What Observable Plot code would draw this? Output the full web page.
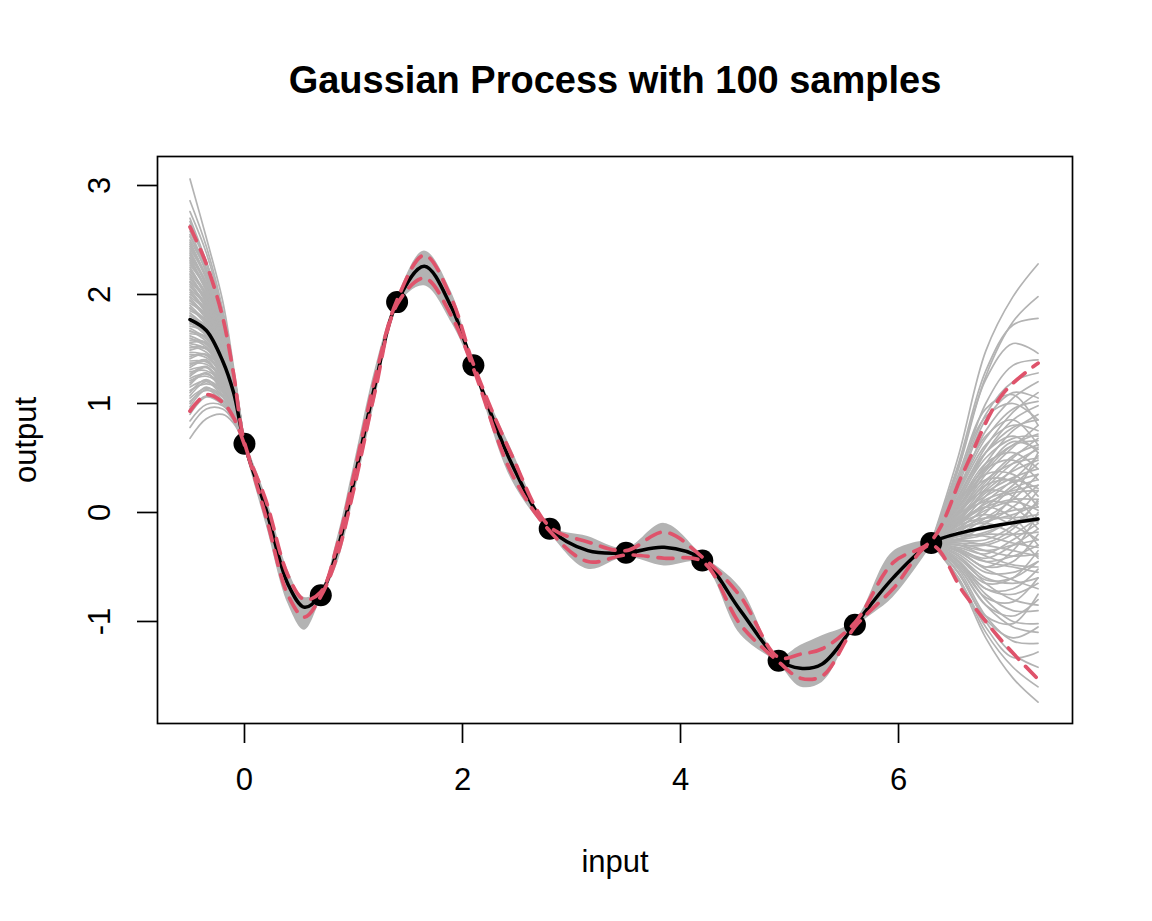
<!DOCTYPE html>
<html><head><meta charset="utf-8">
<script src="https://cdn.jsdelivr.net/npm/d3@7"></script>
<script src="https://cdn.jsdelivr.net/npm/@observablehq/plot@0.6"></script>
<style>body{margin:0;background:#fff}</style>
</head><body><div id="chart"></div>
<script>
const title = "Gaussian Process with 100 samples";
const xLabel = "input";
const yLabel = "output";
const xTicks = [0, 2, 4, 6];
const yTicks = [-1, 0, 1, 2, 3];
const yTickLabels = ["-1", "0", "1", "2", "3"];

// observed points
const obsX = [0, 0.7, 1.4, 2.1, 2.8, 3.5, 4.2, 4.9, 5.6, 6.3];
const obsY = [0.63, -0.76, 1.93, 1.35, -0.15, -0.37, -0.44, -1.36, -1.03, -0.28];

// posterior mean and quantile lines
const gridX = [-0.5, -0.35, -0.2, -0.1, 0, 0.2, 0.4, 0.55, 0.7, 0.85, 1.0, 1.2, 1.4, 1.65, 1.9, 2.1, 2.45, 2.8, 3.15, 3.5, 3.85, 4.2, 4.55, 4.9, 5.1, 5.3, 5.6, 5.95, 6.3, 6.6, 6.95, 7.28];
const meanY = [1.77, 1.67, 1.39, 1.10, 0.63, 0.02, -0.66, -0.87, -0.75, -0.35, 0.27, 1.18, 1.93, 2.26, 1.88, 1.34, 0.45, -0.15, -0.35, -0.37, -0.32, -0.43, -0.90, -1.35, -1.43, -1.39, -1.03, -0.60, -0.28, -0.18, -0.11, -0.06];
const upperY = [2.62, 2.28, 1.79, 1.27, 0.64, 0.10, -0.58, -0.80, -0.73, -0.30, 0.33, 1.24, 1.95, 2.36, 1.96, 1.36, 0.53, -0.13, -0.27, -0.35, -0.18, -0.41, -0.77, -1.33, -1.30, -1.25, -1.01, -0.46, -0.26, 0.38, 1.08, 1.37];
const lowerY = [0.93, 1.08, 1.01, 0.87, 0.62, -0.05, -0.76, -0.96, -0.77, -0.40, 0.20, 1.12, 1.91, 2.15, 1.80, 1.32, 0.36, -0.17, -0.45, -0.39, -0.42, -0.45, -1.03, -1.37, -1.52, -1.50, -1.05, -0.70, -0.30, -0.74, -1.18, -1.53];

// envelope of the samples between the observations
const bandX = [0, 0.2, 0.4, 0.55, 0.7, 0.85, 1.0, 1.2, 1.4, 1.65, 1.9, 2.1, 2.45, 2.8, 3.15, 3.5, 3.85, 4.2, 4.55, 4.9, 5.1, 5.3, 5.6, 5.95, 6.3];
const bandHi = [0.67, 0.14, -0.53, -0.78, -0.71, -0.24, 0.42, 1.32, 1.97, 2.40, 2.02, 1.38, 0.58, -0.12, -0.22, -0.33, -0.10, -0.39, -0.69, -1.32, -1.22, -1.13, -0.99, -0.36, -0.25];
const bandLo = [0.59, -0.12, -0.84, -1.08, -0.80, -0.48, 0.12, 1.03, 1.89, 2.08, 1.74, 1.30, 0.30, -0.19, -0.52, -0.41, -0.49, -0.47, -1.12, -1.39, -1.60, -1.56, -1.07, -0.78, -0.31];

// individual samples left of the first observation
const leftFanX = [-0.5, -0.35, -0.2, -0.1];
const leftFan = [
  [3.06, 2.52, 1.94, 1.33], [2.86, 2.44, 1.86, 1.30], [2.76, 2.38, 1.83, 1.28], [2.70, 2.30, 1.83, 1.29],
  [2.67, 2.28, 1.82, 1.28], [2.64, 2.30, 1.78, 1.26], [2.61, 2.29, 1.76, 1.26], [2.58, 2.23, 1.78, 1.27],
  [2.55, 2.20, 1.77, 1.26], [2.53, 2.24, 1.74, 1.24], [2.50, 2.21, 1.72, 1.24], [2.48, 2.16, 1.73, 1.25],
  [2.46, 2.14, 1.72, 1.25], [2.44, 2.17, 1.70, 1.22], [2.42, 2.15, 1.68, 1.22], [2.40, 2.10, 1.70, 1.24],
  [2.38, 2.08, 1.69, 1.23], [2.36, 2.11, 1.66, 1.21], [2.34, 2.10, 1.65, 1.20], [2.33, 2.05, 1.66, 1.22],
  [2.31, 2.03, 1.65, 1.22], [2.29, 2.06, 1.62, 1.19], [2.27, 2.05, 1.61, 1.19], [2.25, 1.99, 1.63, 1.21],
  [2.23, 1.97, 1.62, 1.20], [2.21, 2.01, 1.59, 1.18], [2.19, 1.99, 1.57, 1.17], [2.18, 1.94, 1.59, 1.19],
  [2.16, 1.92, 1.58, 1.19], [2.14, 1.96, 1.55, 1.16], [2.12, 1.94, 1.54, 1.16], [2.11, 1.89, 1.56, 1.18],
  [2.09, 1.87, 1.55, 1.17], [2.07, 1.91, 1.52, 1.15], [2.05, 1.89, 1.51, 1.15], [2.04, 1.84, 1.53, 1.16],
  [2.02, 1.82, 1.52, 1.16], [2.00, 1.86, 1.49, 1.14], [1.98, 1.84, 1.48, 1.13], [1.97, 1.79, 1.49, 1.15],
  [1.95, 1.77, 1.48, 1.15], [1.94, 1.81, 1.46, 1.12], [1.92, 1.80, 1.44, 1.12], [1.90, 1.74, 1.46, 1.14],
  [1.88, 1.72, 1.45, 1.13], [1.87, 1.76, 1.43, 1.11], [1.85, 1.75, 1.41, 1.11], [1.83, 1.69, 1.43, 1.12],
  [1.81, 1.67, 1.42, 1.12], [1.80, 1.71, 1.39, 1.10], [1.78, 1.70, 1.38, 1.09], [1.76, 1.64, 1.40, 1.11],
  [1.74, 1.62, 1.39, 1.10], [1.73, 1.66, 1.36, 1.08], [1.71, 1.65, 1.34, 1.07], [1.69, 1.59, 1.36, 1.09],
  [1.67, 1.57, 1.35, 1.08], [1.66, 1.61, 1.33, 1.06], [1.64, 1.60, 1.31, 1.05], [1.62, 1.54, 1.33, 1.07],
  [1.60, 1.52, 1.32, 1.06], [1.58, 1.56, 1.29, 1.04], [1.56, 1.55, 1.28, 1.03], [1.55, 1.50, 1.30, 1.05],
  [1.53, 1.47, 1.29, 1.04], [1.51, 1.51, 1.26, 1.02], [1.49, 1.50, 1.24, 1.01], [1.47, 1.44, 1.26, 1.03],
  [1.45, 1.42, 1.26, 1.02], [1.43, 1.45, 1.23, 1.00], [1.41, 1.45, 1.21, 0.99], [1.39, 1.38, 1.23, 1.01],
  [1.37, 1.36, 1.22, 1.00], [1.35, 1.40, 1.19, 0.98], [1.33, 1.39, 1.17, 0.97], [1.31, 1.33, 1.19, 0.98],
  [1.29, 1.30, 1.18, 0.98], [1.27, 1.34, 1.15, 0.95], [1.25, 1.33, 1.13, 0.95], [1.23, 1.27, 1.16, 0.96],
  [1.21, 1.25, 1.15, 0.96], [1.19, 1.28, 1.12, 0.93], [1.17, 1.28, 1.10, 0.93], [1.15, 1.21, 1.12, 0.94],
  [1.12, 1.18, 1.11, 0.93], [1.10, 1.22, 1.08, 0.91], [1.07, 1.20, 1.06, 0.90], [1.05, 1.14, 1.07, 0.91],
  [1.02, 1.12, 1.06, 0.90], [1.00, 1.15, 1.03, 0.88], [0.97, 1.13, 1.01, 0.87], [0.95, 1.07, 1.03, 0.89],
  [0.90, 1.06, 0.99, 0.85], [0.84, 0.99, 0.98, 0.86], [0.78, 0.95, 0.95, 0.84], [0.68, 0.86, 0.90, 0.82]
];

// individual samples right of the last observation
const rightFanX = [6.55, 6.8, 7.05, 7.28];
const rightFan = [
  [0.52, 1.48, 1.98, 2.28], [0.40, 1.25, 1.75, 1.98], [0.45, 1.30, 1.72, 1.78], [0.42, 1.22, 1.55, 1.46],
  [0.30, 1.00, 1.35, 1.40], [0.35, 0.95, 1.08, 0.80], [0.20, 0.75, 1.05, 1.20], [0.25, 0.85, 1.10, 1.05],
  [0.15, 0.60, 0.92, 1.10], [0.10, 0.55, 0.85, 0.98], [0.22, 0.70, 0.85, 0.62], [0.05, 0.45, 0.75, 0.90],
  [0.12, 0.50, 0.68, 0.70], [0.00, 0.35, 0.60, 0.80], [0.08, 0.45, 0.55, 0.40], [-0.05, 0.25, 0.50, 0.68],
  [0.00, 0.30, 0.45, 0.50], [-0.10, 0.15, 0.40, 0.60], [0.05, 0.35, 0.35, 0.15], [-0.08, 0.18, 0.32, 0.40],
  [-0.15, 0.05, 0.25, 0.45], [-0.05, 0.12, 0.20, 0.25], [-0.20, -0.05, 0.12, 0.35], [-0.10, 0.05, 0.12, 0.12],
  [0.00, 0.20, 0.15, -0.10], [-0.15, -0.05, 0.02, 0.05], [-0.25, -0.20, -0.05, 0.20], [-0.12, -0.05, -0.05, -0.02],
  [-0.20, -0.15, -0.10, -0.08], [-0.08, 0.05, -0.05, -0.30], [-0.30, -0.30, -0.20, -0.05], [-0.22, -0.20, -0.20, -0.18],
  [-0.30, -0.35, -0.30, -0.25], [-0.15, -0.10, -0.20, -0.42], [-0.35, -0.45, -0.40, -0.30], [-0.28, -0.35, -0.40, -0.38],
  [-0.38, -0.55, -0.55, -0.45], [-0.33, -0.45, -0.50, -0.55], [-0.40, -0.60, -0.65, -0.60], [-0.45, -0.70, -0.75, -0.65],
  [-0.45, -0.75, -0.90, -0.90], [-0.55, -0.95, -1.02, -0.75], [-0.50, -0.85, -1.05, -1.10], [-0.52, -0.95, -1.18, -1.20],
  [-0.55, -1.00, -1.30, -1.42], [-0.60, -1.05, -1.33, -1.28], [-0.60, -1.10, -1.42, -1.60], [-0.62, -1.15, -1.52, -1.74],
  [-0.45, -0.65, -0.60, -0.35], [-0.25, -0.10, 0.15, 0.55], [0.15, 0.55, 0.70, 0.55], [-0.35, -0.50, -0.35, 0.00],
  [0.18, 0.62, 0.80, 0.75], [0.02, 0.38, 0.62, 0.72], [-0.02, 0.28, 0.52, 0.62], [0.10, 0.40, 0.48, 0.30],
  [-0.12, 0.10, 0.30, 0.52], [-0.06, 0.20, 0.38, 0.48], [0.06, 0.30, 0.28, 0.05], [-0.18, 0.00, 0.22, 0.30],
  [-0.10, 0.08, 0.18, 0.20], [-0.22, -0.10, 0.05, 0.25], [-0.04, 0.10, 0.05, -0.15], [-0.16, -0.08, -0.02, 0.08],
  [-0.26, -0.25, -0.12, 0.10], [-0.10, -0.02, -0.12, -0.25], [-0.32, -0.38, -0.25, -0.10], [-0.20, -0.22, -0.28, -0.32],
  [-0.26, -0.30, -0.35, -0.40], [-0.36, -0.50, -0.45, -0.20], [-0.30, -0.40, -0.48, -0.50], [-0.42, -0.62, -0.60, -0.45],
  [-0.36, -0.52, -0.62, -0.70], [-0.48, -0.78, -0.82, -0.60], [-0.40, -0.65, -0.80, -0.85], [-0.50, -0.85, -0.95, -0.80],
  [-0.46, -0.80, -1.00, -1.02], [0.28, 0.90, 1.20, 1.28], [0.32, 0.88, 1.00, 0.85], [0.20, 0.68, 0.95, 1.02],
  [0.14, 0.55, 0.78, 0.85], [0.04, 0.40, 0.65, 0.58], [-0.08, 0.22, 0.45, 0.58], [-0.14, 0.02, 0.10, 0.02],
  [-0.24, -0.18, -0.08, -0.05], [-0.34, -0.42, -0.30, -0.15], [-0.56, -0.98, -1.15, -1.05], [-0.28, -0.28, -0.15, 0.12],
  [0.00, 0.25, 0.30, 0.22], [0.08, 0.42, 0.62, 0.66], [-0.02, 0.15, 0.28, 0.35], [-0.44, -0.70, -0.70, -0.52]
];

// tables
const obs = obsX.map((x, i) => ({x, y: obsY[i]}));
const meanData = gridX.map((x, i) => ({x, y: meanY[i]}));
const upperData = gridX.map((x, i) => ({x, y: upperY[i]}));
const lowerData = gridX.map((x, i) => ({x, y: lowerY[i]}));
const band = bandX.map((x, i) => ({x, lo: bandLo[i], hi: bandHi[i]}));
const leftLines = leftFan.flatMap((row, k) => [
  ...row.map((y, i) => ({id: k, x: leftFanX[i], y})),
  {id: k, x: obsX[0], y: obsY[0]}
]);
const last = obsX.length - 1;
const rightLines = rightFan.flatMap((row, k) => [
  {id: k, x: obsX[last], y: obsY[last]},
  ...row.map((y, i) => ({id: k, x: rightFanX[i], y}))
]);

const gray = "#b3b3b3";
const red = "#DF536B";
const font = "'Liberation Sans', Arial, Helvetica, sans-serif";

const chart = Plot.plot({
  width: 1152,
  height: 921,
  marginLeft: 157,
  marginRight: 80,
  marginTop: 156,
  marginBottom: 198,
  style: {fontFamily: font, background: "white", color: "black"},
  x: {domain: [-0.798, 7.596]},
  y: {domain: [-1.936, 3.266]},
  marks: [
    Plot.areaY(band, {x: "x", y1: "lo", y2: "hi", fill: gray, curve: "catmull-rom"}),
    Plot.line(leftLines, {x: "x", y: "y", z: "id", stroke: gray, strokeWidth: 1.7, curve: "catmull-rom"}),
    Plot.line(rightLines, {x: "x", y: "y", z: "id", stroke: gray, strokeWidth: 1.7, curve: "catmull-rom"}),
    Plot.dot(obs, {x: "x", y: "y", r: 11, fill: "black"}),
    Plot.line(meanData, {x: "x", y: "y", stroke: "black", strokeWidth: 3.5, curve: "catmull-rom"}),
    Plot.line(upperData, {x: "x", y: "y", stroke: red, strokeWidth: 3.7, strokeDasharray: "15,10", curve: "catmull-rom"}),
    Plot.line(lowerData, {x: "x", y: "y", stroke: red, strokeWidth: 3.7, strokeDasharray: "15,10", curve: "catmull-rom"}),
    Plot.frame({stroke: "black", strokeWidth: 1.7}),
    Plot.axisX({ticks: xTicks, tickSize: 20, tickFormat: () => "", strokeWidth: 1.7, label: null}),
    Plot.axisY({ticks: yTicks, tickSize: 20, tickFormat: () => "", strokeWidth: 1.7, label: null}),
    Plot.text(xTicks, {x: d => d, text: d => String(d), frameAnchor: "bottom", dy: 57, fontSize: 31, textAnchor: "middle", lineAnchor: "middle"}),
    Plot.text(yTicks, {y: d => d, text: (d, i) => yTickLabels[i], frameAnchor: "left", dx: -57, rotate: -90, fontSize: 31, textAnchor: "middle", lineAnchor: "middle"}),
    Plot.text([xLabel], {frameAnchor: "bottom", dy: 139, fontSize: 31, textAnchor: "middle", lineAnchor: "middle"}),
    Plot.text([yLabel], {frameAnchor: "left", dx: -131, rotate: -90, fontSize: 31, textAnchor: "middle", lineAnchor: "middle"}),
    Plot.text([title], {frameAnchor: "top", dy: -76, fontSize: 38, fontWeight: "bold", textAnchor: "middle", lineAnchor: "middle"})
  ]
});
document.getElementById("chart").appendChild(chart);
</script>
</body></html>
